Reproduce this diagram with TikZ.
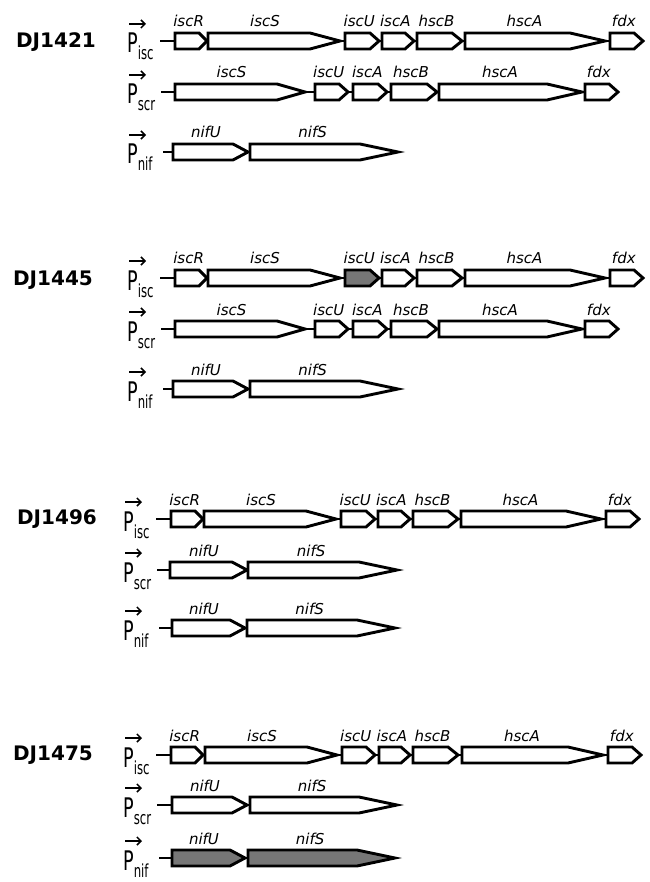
\documentclass[tikz,border=0pt]{standalone}
\usepackage{graphicx}
\usepackage{fontspec}
\setmainfont{DejaVu Sans}
\usetikzlibrary{arrows.meta}
\definecolor{genegray}{RGB}{118,118,118}
\tikzset{
  genebox/.style={draw=black, line width=2.9pt, line join=miter},
  backbone/.style={draw=black, line width=2.9pt},
  genelabel/.style={font=\fontsize{15}{15}\selectfont\itshape, anchor=base, inner sep=0pt},
  strainlabel/.style={font=\fontsize{20}{20}\selectfont\bfseries, inner sep=0pt},
  promlabel/.style={anchor=base west, inner sep=0pt},
  promarrow/.style={-{Straight Barb[length=4pt,width=8pt]}, line width=1.5pt},
}
% name, x1, x2, tip, y, label, fill
\newcommand\gn[7]{%
  \path[genebox, fill=#7] (#2,#5-8) -- (#3-#4,#5-8) -- (#3,#5) -- (#3-#4,#5+8) -- (#2,#5+8) -- cycle;
  \coordinate (#1-w) at (#2,#5);
  \coordinate (#1-e) at (#3,#5);
  \node[genelabel] (#1-lbl) at ({(#2+#3-0.6*#4)/2},#5-14) {#6};
}
% prefix, y, list x1/x2/tip/label/fill
\newcommand\generow[3]{%
  \foreach \ga/\gb/\gt/\gl/\gf [count=\gi, remember=\gi as \gj (initially 0)] in {#3} {
    \gn{#1-\gi}{\ga}{\gb}{\gt}{#2}{\gl}{\gf}
    \draw[backbone] (#1-\gj-e) -- (#1-\gi-w);
  }
}
% prefix, x, y, subscript, line start
\newcommand\prom[5]{%
  \node[promlabel] (#1-P) at (#2,#3+12) {\scalebox{0.65}[1]{\fontsize{27}{27}\selectfont P\raisebox{-7pt}{\fontsize{18}{18}\selectfont #4}}};
  \coordinate (#1-as) at (#2+2,#3-17);
  \coordinate (#1-ae) at (#2+19,#3-17);
  \draw[promarrow] (#1-as) -- (#1-ae);
  \coordinate (#1-0-e) at (#5,#3);
}
\begin{document}
\begin{tikzpicture}[x=1pt,y=-1pt]
\useasboundingbox (0,0) rectangle (649,882);
\fill[white] (0,0) rectangle (649,882);

% ---------------- DJ1421
\node[strainlabel] (s1) at (56,42) {DJ1421};
\prom{b1i}{127}{41}{isc}{160}
\generow{b1i}{41}{175/207/8/iscR/white,208/340/30/iscS/white,345/379/9/iscU/white,382/414/9/iscA/white,417/462/10/hscB/white,465/605/35/hscA/white,610/643/9/fdx/white}
\prom{b1s}{127}{92}{scr}{161}
\generow{b1s}{92}{175/305/28/iscS/white,315/348/9/iscU/white,353/387/9/iscA/white,391/437/10/hscB/white,439/582/35/hscA/white,585/618/9/fdx/white}
\prom{b1n}{127}{152}{nif}{163}
\generow{b1n}{152}{173/248/15/nifU/white,250/398/38/nifS/white}

% ---------------- DJ1445
\node[strainlabel] (s2) at (53,280) {DJ1445};
\prom{b2i}{127}{278}{isc}{160}
\generow{b2i}{278}{175/207/8/iscR/white,208/340/30/iscS/white,345/379/9/iscU/genegray,382/414/9/iscA/white,417/462/10/hscB/white,465/605/35/hscA/white,610/643/9/fdx/white}
\prom{b2s}{127}{329}{scr}{161}
\generow{b2s}{329}{175/305/28/iscS/white,315/348/9/iscU/white,353/387/9/iscA/white,391/437/10/hscB/white,439/582/35/hscA/white,585/618/9/fdx/white}
\prom{b2n}{127}{389}{nif}{163}
\generow{b2n}{389}{173/248/15/nifU/white,250/398/38/nifS/white}

% ---------------- DJ1496
\node[strainlabel] (s3) at (57,519) {DJ1496};
\prom{b3i}{123}{519}{isc}{156}
\generow{b3i}{519}{171/203/8/iscR/white,204/336/30/iscS/white,341/375/9/iscU/white,378/410/9/iscA/white,413/458/10/hscB/white,461/601/35/hscA/white,606/639/9/fdx/white}
\prom{b3s}{123}{570}{scr}{157}
\generow{b3s}{570}{170/247/15/nifU/white,248/397/38/nifS/white}
\prom{b3n}{123}{628}{nif}{159}
\generow{b3n}{628}{172/245/15/nifU/white,247/395/38/nifS/white}

% ---------------- DJ1475
\node[strainlabel] (s4) at (53,755) {DJ1475};
\prom{b4i}{123}{755}{isc}{156}
\generow{b4i}{755}{171/203/8/iscR/white,205/337/30/iscS/white,342/375/9/iscU/white,379/410/9/iscA/white,413/458/10/hscB/white,462/603/35/hscA/white,608/641/9/fdx/white}
\prom{b4s}{123}{805}{scr}{157}
\generow{b4s}{805}{172/247/15/nifU/white,250/397/38/nifS/white}
\prom{b4n}{123}{858}{nif}{159}
\generow{b4n}{858}{172/245/15/nifU/genegray,248/395/38/nifS/genegray}
\end{tikzpicture}
\end{document}
